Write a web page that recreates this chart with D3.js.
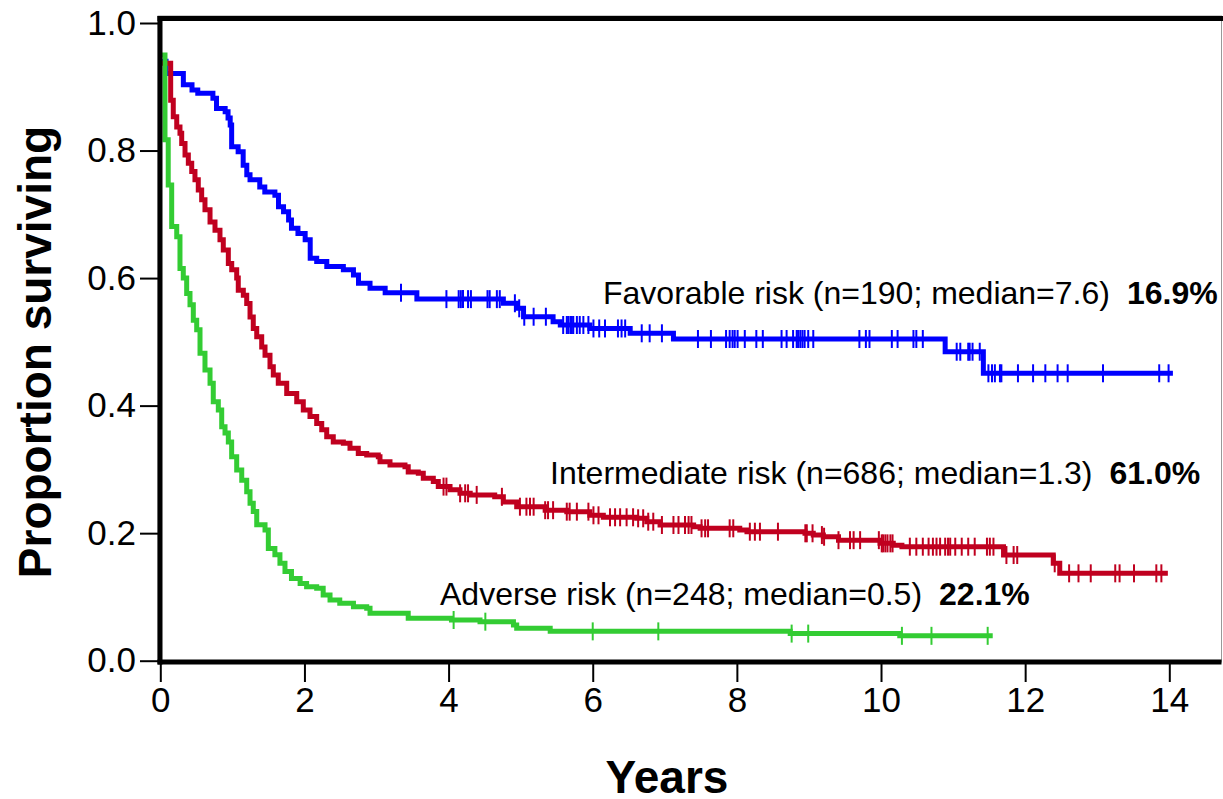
<!DOCTYPE html>
<html>
<head>
<meta charset="utf-8">
<script src="https://cdn.jsdelivr.net/npm/d3@7"></script>
<style>
  body { margin: 0; background: #fff; }
  svg { display: block; font-family: "Liberation Sans", Arial, sans-serif; }
</style>
</head>
<body>
<svg id="km" width="1223" height="799"></svg>
<script>
// Kaplan-Meier survival by risk group
// step points: [years, proportion surviving from that time on]
const favorableSteps = [
  [0, 0.94], [0.08, 0.921], [0.32, 0.903], [0.44, 0.895], [0.52, 0.89], [0.73, 0.882],
  [0.78, 0.866], [0.90, 0.861], [0.94, 0.851], [0.97, 0.84], [0.99, 0.806], [1.08, 0.798],
  [1.15, 0.777], [1.20, 0.762], [1.245, 0.754], [1.38, 0.743], [1.45, 0.735], [1.59, 0.730],
  [1.64, 0.712], [1.71, 0.704], [1.78, 0.691], [1.82, 0.678], [1.91, 0.670], [2.01, 0.660],
  [2.08, 0.631], [2.17, 0.626], [2.31, 0.618], [2.54, 0.613], [2.68, 0.605], [2.75, 0.592],
  [2.91, 0.584], [3.12, 0.577], [3.56, 0.567], [4.76, 0.5605], [4.95, 0.5526], [5.04, 0.5394],
  [5.45, 0.5316], [5.55, 0.5264], [5.96, 0.521], [6.52, 0.5134], [7.12, 0.5045], [10.89, 0.4845],
  [11.42, 0.4507], [14.05, 0.4507]
];
const intermediateSteps = [
  [0, 0.937], [0.144, 0.879], [0.18, 0.853], [0.228, 0.837], [0.273, 0.827], [0.297, 0.811],
  [0.343, 0.793], [0.389, 0.780], [0.436, 0.767], [0.481, 0.754], [0.527, 0.738], [0.574, 0.723],
  [0.62, 0.707], [0.69, 0.688], [0.759, 0.675], [0.828, 0.660], [0.874, 0.644], [0.944, 0.623],
  [0.991, 0.613], [1.06, 0.600], [1.082, 0.581], [1.152, 0.573], [1.199, 0.560], [1.245, 0.539],
  [1.29, 0.521], [1.338, 0.508], [1.407, 0.492], [1.453, 0.479], [1.522, 0.461], [1.568, 0.448],
  [1.637, 0.435], [1.754, 0.419], [1.893, 0.406], [1.984, 0.393], [2.077, 0.383], [2.17, 0.372],
  [2.24, 0.362], [2.309, 0.351], [2.40, 0.343], [2.54, 0.341], [2.632, 0.333], [2.747, 0.325],
  [2.864, 0.3226], [3.025, 0.320], [3.048, 0.312], [3.187, 0.307], [3.395, 0.304], [3.44, 0.296],
  [3.58, 0.294], [3.649, 0.286], [3.788, 0.281], [3.857, 0.273], [4.02, 0.268], [4.158, 0.2625],
  [4.30, 0.260], [4.64, 0.257], [4.76, 0.249], [4.945, 0.2415], [5.34, 0.236], [5.64, 0.2337],
  [5.96, 0.228], [6.147, 0.2249], [6.61, 0.2233], [6.75, 0.218], [6.934, 0.2128], [7.40, 0.210],
  [7.49, 0.2076], [8.04, 0.205], [8.14, 0.2023], [8.945, 0.1998], [9.06, 0.197], [9.20, 0.1944],
  [9.41, 0.189], [9.986, 0.184], [10.17, 0.181], [10.29, 0.1788], [11.70, 0.1657], [12.39, 0.1527],
  [12.48, 0.137], [13.98, 0.137]
];
const adverseSteps = [
  [0, 0.95], [0.065, 0.817], [0.11, 0.746], [0.158, 0.681], [0.228, 0.665], [0.273, 0.615],
  [0.319, 0.600], [0.366, 0.576], [0.412, 0.558], [0.458, 0.534], [0.505, 0.519], [0.551, 0.482],
  [0.62, 0.456], [0.69, 0.435], [0.735, 0.406], [0.805, 0.393], [0.852, 0.367], [0.898, 0.357],
  [0.944, 0.343], [0.99, 0.320], [1.06, 0.299], [1.13, 0.283], [1.199, 0.265], [1.245, 0.247],
  [1.29, 0.234], [1.338, 0.213], [1.453, 0.205], [1.499, 0.176], [1.59, 0.166], [1.66, 0.153],
  [1.73, 0.140], [1.82, 0.129], [1.94, 0.121], [2.03, 0.116], [2.17, 0.1135], [2.26, 0.103],
  [2.355, 0.095], [2.49, 0.090], [2.68, 0.0847], [2.864, 0.0822], [2.91, 0.0743], [3.44, 0.0665],
  [4.04, 0.0638], [4.436, 0.0612], [4.90, 0.056], [4.945, 0.0508], [5.41, 0.046], [8.74, 0.0425],
  [10.26, 0.039], [11.55, 0.039]
];

// censored observations (years)
const favorableCensored = [3.34, 3.97, 4.14, 4.17, 4.20, 4.27, 4.31, 4.54, 4.57, 4.67, 4.71, 4.92,
  4.98, 5.05, 5.18, 5.35, 5.59, 5.64, 5.66, 5.69, 5.71, 5.73, 5.78, 5.82, 5.87, 5.94, 6.01, 6.09,
  6.17, 6.35, 6.40, 6.45, 6.68, 6.79, 6.96, 7.46, 7.64, 7.85, 7.90, 7.94, 7.97, 8.01, 8.11, 8.27,
  8.36, 8.62, 8.69, 8.78, 8.83, 8.85, 8.88, 8.91, 8.94, 8.99, 9.06, 9.70, 9.79, 9.84, 10.15, 10.23,
  10.45, 10.49, 10.58, 11.05, 11.10, 11.21, 11.23, 11.27, 11.37, 11.49, 11.54, 11.58, 11.65, 11.67,
  11.90, 12.11, 12.28, 12.45, 12.59, 13.08, 13.86, 13.99];
const intermediateCensored = [3.93, 3.97, 4.16, 4.23, 4.27, 4.39, 4.74, 4.99, 5.08, 5.13, 5.18,
  5.34, 5.38, 5.45, 5.64, 5.68, 5.78, 5.94, 6.01, 6.08, 6.24, 6.31, 6.38, 6.47, 6.56, 6.63, 6.70,
  6.77, 6.84, 6.96, 7.12, 7.19, 7.28, 7.33, 7.37, 7.51, 7.56, 7.60, 7.90, 7.95, 8.18, 8.25, 8.32,
  8.57, 8.95, 8.97, 9.05, 9.18, 9.21, 9.41, 9.57, 9.62, 9.71, 9.97, 10.01, 10.03, 10.06, 10.09,
  10.13, 10.16, 10.40, 10.49, 10.58, 10.66, 10.72, 10.77, 10.82, 10.89, 10.93, 10.96, 11.03, 11.12,
  11.21, 11.30, 11.47, 11.51, 11.56, 11.74, 11.84, 11.89, 12.41, 12.61, 12.74, 12.91, 13.25, 13.31,
  13.51, 13.82, 13.89];
const adverseCensored = [4.07, 4.51, 6.0, 6.91, 8.76, 8.99, 10.29, 10.70, 11.48];

const groupNames = ["Favorable risk (n=190; median=7.6)", "Intermediate risk (n=686; median=1.3)",
  "Adverse risk (n=248; median=0.5)"];
const groupPercents = ["16.9%", "61.0%", "22.1%"];
const xTicks = [0, 2, 4, 6, 8, 10, 12, 14];
const yTicks = [0, 0.2, 0.4, 0.6, 0.8, 1.0];

const svg = d3.select("#km");
const width = +svg.attr("width");
const height = +svg.attr("height");

const x = d3.scaleLinear().domain([0, 14]).range([160.3, 1169.3]);
const y = d3.scaleLinear().domain([0, 1]).range([660.7, 23]);

const series = [
  { steps: favorableSteps, censored: favorableCensored, color: "#0000ff",
    name: groupNames[0], pct: groupPercents[0], lx: 603, ly: 304 },
  { steps: intermediateSteps, censored: intermediateCensored, color: "#c0001f",
    name: groupNames[1], pct: groupPercents[1], lx: 550, ly: 484 },
  { steps: adverseSteps, censored: adverseCensored, color: "#33cc33",
    name: groupNames[2], pct: groupPercents[2], lx: 440, ly: 605 }
];

// frame: thin grey box, heavy top / left / bottom
svg.append("rect")
  .attr("x", 158).attr("y", 16)
  .attr("width", width - 158 - 1.5).attr("height", 662 - 16)
  .attr("fill", "none").attr("stroke", "#999").attr("stroke-width", 1);

// step curves
const line = d3.line()
  .x((d) => x(d[0]))
  .y((d) => y(d[1]))
  .curve(d3.curveStepAfter);

// survival at time t from the step list
function survAt(steps, t) {
  let s = steps[0][1];
  for (const p of steps) {
    if (p[0] <= t) s = p[1];
    else break;
  }
  return s;
}

series.forEach((s) => {
  svg.append("path")
    .datum(s.steps)
    .attr("d", line)
    .attr("fill", "none")
    .attr("stroke", s.color)
    .attr("stroke-width", 5)
    .attr("stroke-linejoin", "miter");

  svg.append("g")
    .selectAll("line")
    .data(s.censored)
    .join("line")
    .attr("x1", (d) => x(d))
    .attr("x2", (d) => x(d))
    .attr("y1", (d) => y(survAt(s.steps, d)) - 9)
    .attr("y2", (d) => y(survAt(s.steps, d)) + 9)
    .attr("stroke", s.color)
    .attr("stroke-width", 2);

  const t = svg.append("text")
    .attr("x", s.lx)
    .attr("y", s.ly)
    .attr("font-size", 32)
    .attr("fill", "#000");
  t.append("tspan").text(s.name);
  t.append("tspan").attr("dx", 17).attr("font-weight", "bold").text(s.pct);
});

// heavy frame lines
svg.append("line").attr("x1", 157.5).attr("x2", width).attr("y1", 18.5).attr("y2", 18.5)
  .attr("stroke", "#000").attr("stroke-width", 5);
svg.append("line").attr("x1", 160).attr("x2", 160).attr("y1", 16).attr("y2", 664.5)
  .attr("stroke", "#000").attr("stroke-width", 5);
svg.append("line").attr("x1", 157.5).attr("x2", width - 1.5).attr("y1", 662).attr("y2", 662)
  .attr("stroke", "#000").attr("stroke-width", 5);

// axes
const yAxis = svg.append("g")
  .attr("transform", "translate(158,0)")
  .call(d3.axisLeft(y).tickValues(yTicks).tickFormat(d3.format(".1f")).tickSize(18).tickPadding(4));
const xAxis = svg.append("g")
  .attr("transform", "translate(0,662)")
  .call(d3.axisBottom(x).tickValues(xTicks).tickFormat(d3.format("d")).tickSize(20).tickPadding(5));

[yAxis, xAxis].forEach((a) => {
  a.select(".domain").remove();
  a.selectAll(".tick line").attr("stroke", "#000").attr("stroke-width", 2);
  a.selectAll(".tick text")
    .attr("font-family", "'Liberation Sans', Arial, sans-serif")
    .attr("font-size", 35)
    .attr("fill", "#000");
});

// axis titles
svg.append("text")
  .attr("transform", "translate(51,352) rotate(-90)")
  .attr("text-anchor", "middle")
  .attr("font-size", 46)
  .attr("font-weight", "bold")
  .text("Proportion surviving");

svg.append("text")
  .attr("x", 667)
  .attr("y", 793)
  .attr("text-anchor", "middle")
  .attr("font-size", 46)
  .attr("font-weight", "bold")
  .text("Years");
</script>
</body>
</html>
